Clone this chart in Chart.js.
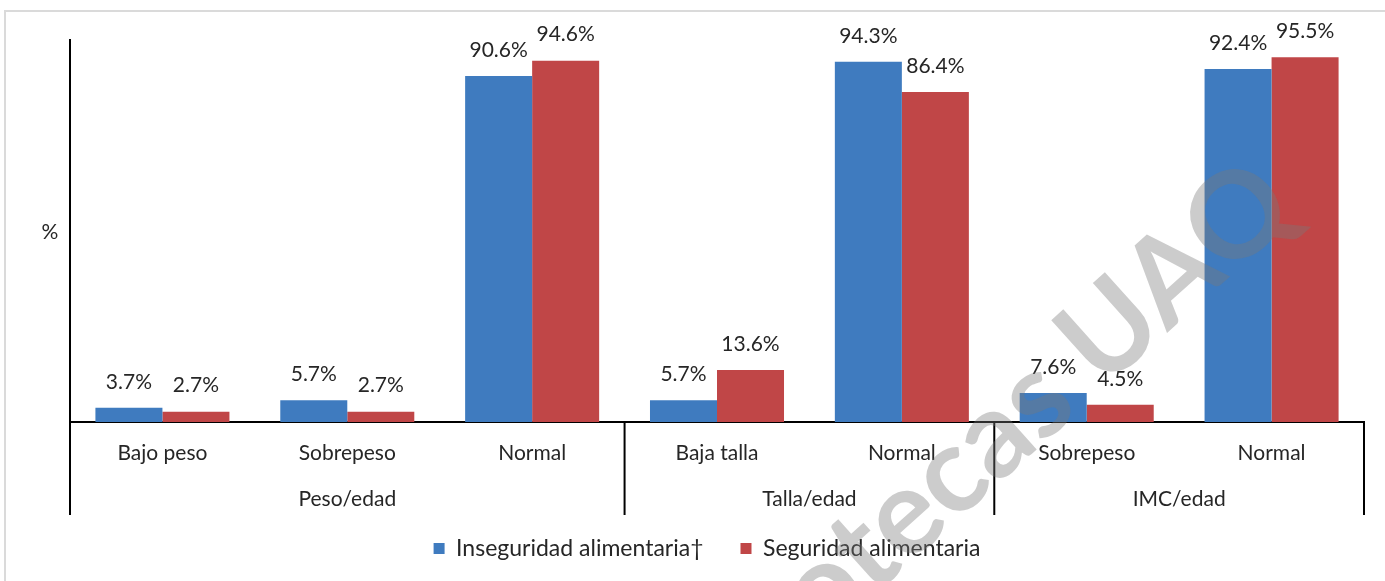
<!DOCTYPE html>
<html>
<head>
<meta charset="utf-8">
<script src="https://cdn.jsdelivr.net/npm/chart.js@4.4.1/dist/chart.umd.min.js"></script>
<style>
  html, body { margin: 0; padding: 0; background: #fff; overflow: hidden; }
  #frame { position: absolute; left: 4px; top: 10px; width: 1400px; height: 600px; border: 2px solid #dadada; box-sizing: border-box; }
  #wrap { position: absolute; left: 0; top: 0; width: 1385px; height: 581px; }
</style>
</head>
<body>
<div id="frame"></div>
<div id="wrap"><canvas id="chart"></canvas></div>
<script>
// datos
const categorias = ["Bajo peso", "Sobrepeso", "Normal", "Baja talla", "Normal", "Sobrepeso", "Normal"];
const grupos = ["Peso/edad", "Talla/edad", "IMC/edad"];
const grupoTamano = [3, 2, 2];
const inseguridad = [3.7, 5.7, 90.6, 5.7, 94.3, 7.6, 92.4];
const seguridad = [2.7, 2.7, 94.6, 13.6, 86.4, 4.5, 95.5];

const FONT = "Lato, 'Open Sans', sans-serif";
const FS = 21;
const TXT = "#262626";

// etiquetas, separadores y marca de agua
const extras = {
    id: 'extras',
    afterDatasetsDraw(chart) {
        const ctx = chart.ctx;
        ctx.save();
        ctx.font = FS + "px " + FONT;
        ctx.fillStyle = TXT;
        ctx.textAlign = "center";
        ctx.textBaseline = "middle";
        chart.data.datasets.forEach(function (ds, i) {
            chart.getDatasetMeta(i).data.forEach(function (bar, j) {
                ctx.fillText(ds.data[j].toFixed(1) + "%", bar.x, bar.y - 26);
            });
        });
        ctx.restore();
    },
    afterDraw(chart) {
        const ctx = chart.ctx;
        const x = chart.scales.x;
        const area = chart.chartArea;
        const half = (x.getPixelForValue(1) - x.getPixelForValue(0)) / 2;
        ctx.save();
        // separadores de grupo
        ctx.strokeStyle = "#000";
        ctx.lineWidth = 2;
        let idx = 0;
        const bordes = [x.getPixelForValue(0) - half];
        grupoTamano.forEach(function (n) {
            idx += n;
            bordes.push(x.getPixelForValue(idx - 1) + half);
        });
        bordes.forEach(function (px) {
            ctx.beginPath();
            ctx.moveTo(px, area.bottom);
            ctx.lineTo(px, area.bottom + 93);
            ctx.stroke();
        });
        // etiquetas de grupo
        ctx.font = FS + "px " + FONT;
        ctx.fillStyle = TXT;
        ctx.textAlign = "center";
        ctx.textBaseline = "middle";
        grupos.forEach(function (g, i) {
            ctx.fillText(g, (bordes[i] + bordes[i + 1]) / 2, area.bottom + 77);
        });
        // titulo eje y
        ctx.fillText("%", 50, (area.top + area.bottom) / 2 + 1);
        // marca de agua
        ctx.translate(1300, 214);
        ctx.rotate(-0.73);
        ctx.font = "bold 120px " + FONT;
        ctx.fillStyle = "rgba(120,120,120,0.38)";
        ctx.textAlign = "right";
        ctx.textBaseline = "alphabetic";
        ctx.fillText("Bibliotecas UAQ", 0, 0);
        ctx.restore();
    }
};

const ctx = document.getElementById('chart').getContext('2d');
const chart = new Chart(ctx, {
    type: 'bar',
    data: {
        labels: categorias,
        datasets: [{
            label: 'Inseguridad alimentaria\u2020',
            backgroundColor: "#3f7bbf",
            data: inseguridad
        }, {
            label: 'Seguridad alimentaria',
            backgroundColor: "#c04647",
            data: seguridad
        }]
    },
    options: {
        responsive: true,
        maintainAspectRatio: false,
        animation: false,
        categoryPercentage: 0.725,
        barPercentage: 1,
        layout: { padding: { left: 50, top: 40, right: 21, bottom: 11 } },
        scales: {
            x: {
                grid: { display: false, drawTicks: false },
                border: { color: "#000", width: 2 },
                ticks: { font: { size: FS, family: FONT }, color: TXT, padding: 19, maxRotation: 0 },
                afterFit: function (s) { s.height = 78; }
            },
            y: {
                min: 0,
                max: 100,
                grid: { display: false, drawTicks: false },
                border: { color: "#000", width: 2 },
                ticks: { display: false },
                afterFit: function (s) { s.width = 20; }
            }
        },
        plugins: {
            legend: {
                position: 'bottom',
                labels: {
                    boxWidth: 11,
                    boxHeight: 11,
                    padding: 37,
                    color: TXT,
                    font: { size: 23, family: FONT }
                }
            },
            tooltip: { enabled: false }
        }
    },
    plugins: [extras]
});
</script>
</body>
</html>
